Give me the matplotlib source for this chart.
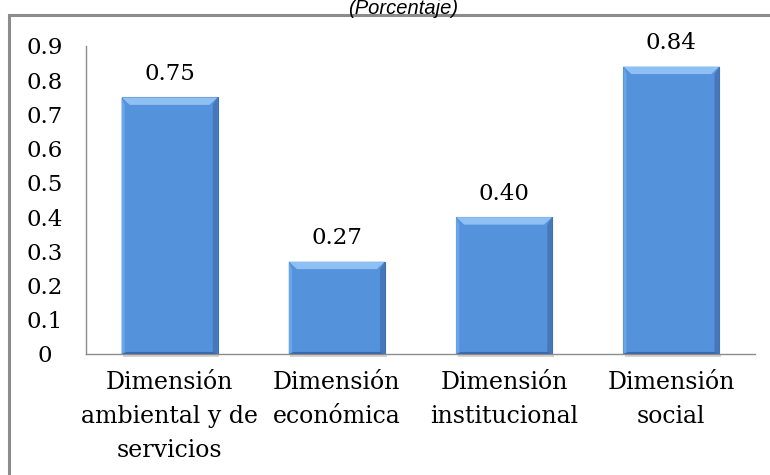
import matplotlib.pyplot as plt
from matplotlib.patches import Rectangle, Polygon

# datos
categorias = ['Dimensión\nambiental y de\nservicios', 'Dimensión\neconómica',
              'Dimensión\ninstitucional', 'Dimensión\nsocial']
valores = [0.75, 0.27, 0.40, 0.84]
etiquetas = ['0.75', '0.27', '0.40', '0.84']
yticks = [0, 0.1, 0.2, 0.3, 0.4, 0.5, 0.6, 0.7, 0.8, 0.9]
ytick_labels = ['0', '0.1', '0.2', '0.3', '0.4', '0.5', '0.6', '0.7', '0.8', '0.9']

plt.rcParams['font.family'] = ['DejaVu Serif']

fig = plt.figure(figsize=(7.7, 4.75), dpi=100)

# marco exterior del gráfico
fig.patches.append(Rectangle((9 / 770, -0.05), 1.0, (475 - 15) / 475 + 0.05,
                             transform=fig.transFigure, fill=False,
                             edgecolor='#8c8c8c', linewidth=2.2))

fig.text(403 / 770, 1 - 14 / 475, '(Porcentaje)', family='Liberation Sans',
         style='italic', fontsize=14.5, ha='center', va='baseline')

ax = fig.add_axes([86 / 770, 1 - 354 / 475, (755 - 86) / 770, (354 - 46) / 475])

x = list(range(len(valores)))
ancho = 0.575
bars = ax.bar(x, valores, width=ancho, color='#5592dc', edgecolor='#3f6fae',
              linewidth=0.8, zorder=2)

# efecto biselado
for b in bars:
    x0, w, h = b.get_x(), b.get_width(), b.get_height()
    dx = w * 0.085
    dy = 0.022
    ax.add_patch(Polygon([(x0, h), (x0 + w, h), (x0 + w - dx, h - dy), (x0 + dx, h - dy)],
                         closed=True, facecolor='#8ec0f4', edgecolor='none', zorder=3))
    ax.add_patch(Polygon([(x0, h), (x0, 0), (x0 + dx * 0.4, 0.004), (x0 + dx * 0.4, h - dy)],
                         closed=True, facecolor='#6aa5e8', edgecolor='none', zorder=3))
    ax.add_patch(Polygon([(x0 + w, h), (x0 + w, 0), (x0 + w - dx * 0.6, 0.004),
                          (x0 + w - dx * 0.6, h - dy)],
                         closed=True, facecolor='#4677ba', edgecolor='none', zorder=3))
    ax.add_patch(Polygon([(x0, 0), (x0 + w, 0), (x0 + w - dx * 0.6, 0.006), (x0 + dx * 0.6, 0.006)],
                         closed=True, facecolor='#3c69a8', edgecolor='none', zorder=3))
    ax.add_patch(Rectangle((x0 + 0.01, -0.008), w, 0.008, facecolor='#d6d6d6',
                           edgecolor='none', zorder=1, clip_on=False))

for xi, v, t in zip(x, valores, etiquetas):
    ax.text(xi, v + 0.05, t, ha='center', va='baseline', fontsize=16.5)

ax.set_xlim(-0.5, len(valores) - 0.5)
ax.set_ylim(0, 0.9)
ax.set_yticks(yticks)
ax.set_yticklabels(ytick_labels)
ax.set_xticks(x)
ax.set_xticklabels(categorias, fontsize=17, linespacing=1.62)
ax.tick_params(axis='y', length=0, labelsize=16.5, pad=30)
ax.tick_params(axis='x', length=0, pad=12)
for lbl in ax.get_yticklabels():
    lbl.set_horizontalalignment('center')

for s in ['top', 'right']:
    ax.spines[s].set_visible(False)
for s in ['left', 'bottom']:
    ax.spines[s].set_color('#8c8c8c')
    ax.spines[s].set_linewidth(1)

fig.savefig('out.png', dpi=100)
